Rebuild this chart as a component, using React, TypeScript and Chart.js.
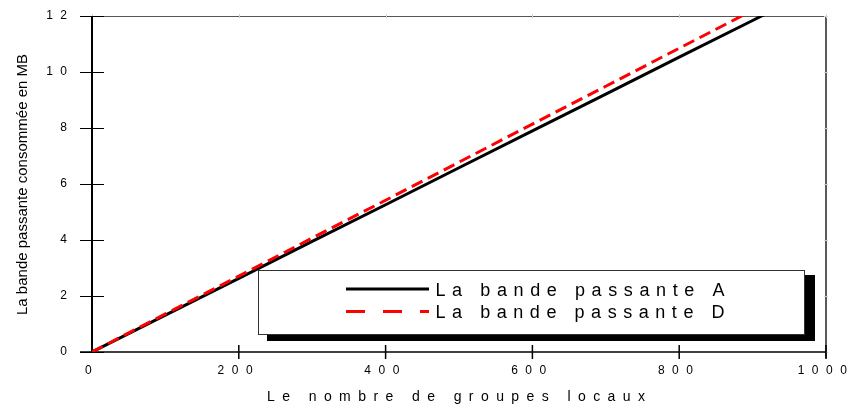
import React, { useEffect, useRef } from "react";
import { Chart, registerables } from "chart.js";

Chart.register(...registerables);

const xValues = [0, 100, 200, 300, 400, 500, 600, 700, 800, 900, 1000];
const bandeA = [0, 1.32, 2.63, 3.95, 5.26, 6.58, 7.9, 9.21, 10.53, 11.84, 13.16];
const bandeD = [0, 1.36, 2.71, 4.07, 5.42, 6.78, 8.14, 9.49, 10.85, 12.2, 13.56];
const seriesLabels = ["La bande passante A", "La bande passante D"];
const xTitle = "Le nombre de groupes locaux";
const yTitle = "La bande passante consommée en MB";
const xMin = 0, xMax = 1000, xStep = 200;
const yMin = 0, yMax = 12, yStep = 2;

const FONT = "'Liberation Sans', Arial, sans-serif";

function drawSpaced(ctx: CanvasRenderingContext2D, text: string, x: number, y: number, target: number) {
  ctx.letterSpacing = "0px";
  const w0 = ctx.measureText(text).width;
  const s = (target - w0) / (text.length - 1);
  ctx.letterSpacing = s + "px";
  ctx.textAlign = "left";
  ctx.fillText(text, x, y);
  ctx.letterSpacing = "0px";
}

const customPlugin = {
  id: "customDecor",
  beforeDraw(chart: any) {
    chart.ctx.letterSpacing = "7.5px";
  },
  beforeDatasetsDraw(chart: any) {
    const ctx: CanvasRenderingContext2D = chart.ctx;
    ctx.letterSpacing = "0px";
    const { left, right, top, bottom } = chart.chartArea;
    const xs = chart.scales.x;
    const ys = chart.scales.y;
    ctx.save();
    // top & right frame
    ctx.strokeStyle = "#555";
    ctx.lineWidth = 1;
    ctx.beginPath();
    ctx.moveTo(left, top + 0.5);
    ctx.lineTo(right, top + 0.5);
    ctx.stroke();
    ctx.strokeStyle = "#222";
    ctx.lineWidth = 1.5;
    ctx.beginPath();
    ctx.moveTo(right, top);
    ctx.lineTo(right, bottom + 6);
    ctx.stroke();
    // small faint ticks on top/right
    ctx.strokeStyle = "#d0d0d0";
    ctx.lineWidth = 1;
    ys.ticks.forEach((t: any) => {
      const py = Math.round(ys.getPixelForValue(t.value)) + 0.5;
      ctx.beginPath();
      ctx.moveTo(right - 2, py);
      ctx.lineTo(right + 2, py);
      ctx.stroke();
    });
    xs.ticks.forEach((t: any) => {
      const px = Math.round(xs.getPixelForValue(t.value)) + 0.5;
      ctx.beginPath();
      ctx.moveTo(px, top - 2);
      ctx.lineTo(px, top + 2);
      ctx.stroke();
    });
    // left axis
    ctx.strokeStyle = "#000";
    ctx.lineWidth = 2;
    ctx.beginPath();
    ctx.moveTo(left, top);
    ctx.lineTo(left, bottom);
    ctx.stroke();
    // bottom axis
    ctx.lineWidth = 1.5;
    ctx.beginPath();
    ctx.moveTo(left - 12, bottom);
    ctx.lineTo(right, bottom);
    ctx.stroke();
    // y ticks crossing
    ctx.lineWidth = 1;
    ys.ticks.forEach((t: any) => {
      const py = Math.round(ys.getPixelForValue(t.value)) + 0.5;
      ctx.beginPath();
      ctx.moveTo(left - 12, py);
      ctx.lineTo(left + 12, py);
      ctx.stroke();
    });
    // x ticks crossing
    ctx.lineWidth = 1.5;
    xs.ticks.forEach((t: any) => {
      if (t.value === xMin) return;
      const px = xs.getPixelForValue(t.value);
      ctx.beginPath();
      ctx.moveTo(px, bottom - 7);
      ctx.lineTo(px, bottom + 7);
      ctx.stroke();
    });
    ctx.restore();
  },
  afterDraw(chart: any) {
    const ctx: CanvasRenderingContext2D = chart.ctx;
    ctx.save();
    ctx.letterSpacing = "0px";
    // legend shadow
    ctx.fillStyle = "#000";
    ctx.fillRect(267, 275, 548, 66);
    // legend box
    ctx.fillStyle = "#fff";
    ctx.fillRect(258, 270.5, 547, 64);
    ctx.strokeStyle = "#333";
    ctx.lineWidth = 1;
    ctx.strokeRect(258.5, 270.5, 546, 64);
    // legend samples
    ctx.lineWidth = 3;
    ctx.strokeStyle = "#000";
    ctx.setLineDash([]);
    ctx.beginPath();
    ctx.moveTo(346, 289);
    ctx.lineTo(429, 289);
    ctx.stroke();
    ctx.strokeStyle = "#ff0000";
    ctx.setLineDash([19, 18]);
    ctx.beginPath();
    ctx.moveTo(346, 311.5);
    ctx.lineTo(429, 311.5);
    ctx.stroke();
    ctx.setLineDash([]);
    // legend text
    ctx.fillStyle = "#000";
    ctx.font = "18px " + FONT;
    ctx.textBaseline = "alphabetic";
    drawSpaced(ctx, seriesLabels[0], 435.5, 296, 289);
    drawSpaced(ctx, seriesLabels[1], 435.5, 318, 289);
    // x title
    ctx.font = "14px " + FONT;
    drawSpaced(ctx, xTitle, 267, 400.5, 378);
    // y title
    ctx.font = "15px " + FONT;
    ctx.translate(26.5, 184.5);
    ctx.rotate(-Math.PI / 2);
    ctx.textAlign = "center";
    ctx.fillText(yTitle, 0, 0);
    ctx.restore();
  },
};

export default function App() {
  const ref = useRef<HTMLCanvasElement | null>(null);
  useEffect(() => {
    if (!ref.current) return;
    const chart = new Chart(ref.current, {
      type: "line",
      data: {
        datasets: [
          {
            label: seriesLabels[1],
            data: xValues.map((x, i) => ({ x, y: bandeD[i] })),
            borderColor: "#ff0000",
            borderWidth: 3,
            borderDash: [12, 6],
            pointRadius: 0,
            fill: false,
            tension: 0,
            order: 0,
          },
          {
            label: seriesLabels[0],
            data: xValues.map((x, i) => ({ x, y: bandeA[i] })),
            borderColor: "#000000",
            borderWidth: 3,
            pointRadius: 0,
            fill: false,
            tension: 0,
            order: 1,
          },
        ],
      },
      options: {
        animation: false,
        responsive: false,
        devicePixelRatio: 1,
        layout: { padding: { left: 0, top: 16, right: 25, bottom: 0 } },
        plugins: { legend: { display: false }, tooltip: { enabled: false } },
        scales: {
          x: {
            type: "linear",
            min: xMin,
            max: xMax,
            grid: { display: false, drawTicks: false },
            border: { display: false },
            ticks: {
              stepSize: xStep,
              padding: 11,
              color: "#000",
              font: { family: FONT, size: 12 },
              maxRotation: 0,
              autoSkip: false,
              callback: (v: any) => String(v),
            },
            afterFit: (s: any) => {
              s.height = 58;
              s.paddingLeft = 0;
              s.paddingRight = 0;
            },
          },
          y: {
            type: "linear",
            min: yMin,
            max: yMax,
            grid: { display: false, drawTicks: false },
            border: { display: false },
            ticks: {
              stepSize: yStep,
              padding: 17.5,
              color: "#000",
              font: { family: FONT, size: 12 },
              callback: (v: any) => String(v),
            },
            afterFit: (s: any) => {
              s.width = 92;
              s.paddingTop = 0;
              s.paddingBottom = 0;
            },
          },
        },
      },
      plugins: [customPlugin],
    } as any);
    return () => chart.destroy();
  }, []);
  return (
    <div style={{ position: "fixed", left: 0, top: 0, width: 851, height: 410, background: "#fff" }}>
      <canvas ref={ref} width={851} height={410} style={{ width: 851, height: 410, display: "block" }} />
    </div>
  );
}
